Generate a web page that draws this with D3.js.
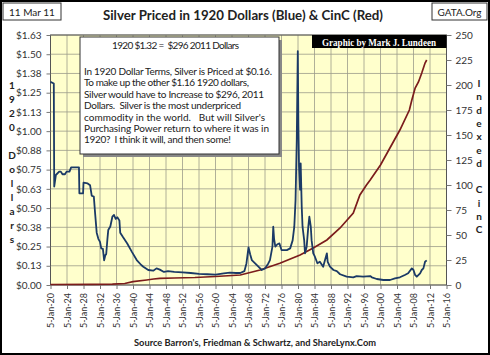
<!DOCTYPE html>
<html><head><meta charset="utf-8">
<script src="https://cdn.jsdelivr.net/npm/d3@7"></script>
<style>
body{margin:0;background:#fff;}
svg{display:block;font-family:Lato,"Open Sans",sans-serif;}
</style></head>
<body><svg id="c" width="490" height="355"></svg>
<script>
// ---------- DATA ----------
const silverYears = [1920.0,1920.8,1920.9,1921.3,1922.1,1922.5,1922.9,1923.5,1923.9,1924.6,1925.0,1926.9,1927.0,1927.9,1928.0,1929.0,1929.6,1930.0,1930.5,1930.8,1931.2,1931.6,1932.0,1932.3,1932.7,1933.0,1933.3,1933.5,1933.8,1934.0,1934.5,1935.0,1935.4,1935.8,1936.2,1936.7,1936.9,1937.6,1938.6,1939.7,1940.9,1942.0,1942.5,1943.7,1944.9,1945.7,1946.5,1947.5,1948.5,1950,1952,1954,1956,1958,1960,1962,1963.5,1965,1966,1967,1967.5,1968.0,1968.4,1968.8,1969.6,1970.4,1971.2,1972.0,1972.8,1973.2,1973.8,1974.0,1974.2,1974.5,1975.0,1975.5,1976.0,1977.3,1978.1,1978.7,1979.1,1979.4,1979.7,1979.95,1980.1,1980.25,1980.5,1980.65,1980.9,1981.1,1981.5,1981.7,1982.1,1982.5,1982.75,1983.1,1983.3,1983.7,1984.1,1984.7,1985.3,1986.1,1987.0,1987.2,1987.75,1988.6,1989.4,1990.2,1991.8,1993.4,1994.2,1995.8,1997.5,1997.9,1999.1,2000.7,2002.3,2003.5,2004.7,2005.9,2006.7,2007.6,2008.0,2008.4,2008.8,2009.6,2010.0,2010.4,2010.8,2011.2];
const silverValues = [1.32,1.31,0.64,0.715,0.737,0.737,0.72,0.72,0.737,0.737,0.765,0.765,0.596,0.596,0.665,0.66,0.648,0.58,0.575,0.47,0.34,0.3,0.28,0.238,0.235,0.16,0.195,0.2,0.3,0.357,0.38,0.444,0.455,0.43,0.44,0.42,0.34,0.31,0.27,0.217,0.162,0.13,0.119,0.0975,0.093,0.108,0.10,0.085,0.09,0.085,0.082,0.078,0.072,0.07,0.068,0.075,0.08,0.078,0.078,0.09,0.14,0.245,0.2,0.162,0.141,0.119,0.0975,0.108,0.14,0.162,0.249,0.379,0.3,0.25,0.265,0.27,0.227,0.227,0.238,0.29,0.379,0.55,0.94,1.52,1.03,0.77,0.62,0.79,0.51,0.379,0.29,0.206,0.249,0.379,0.444,0.379,0.29,0.206,0.184,0.141,0.151,0.119,0.206,0.15,0.119,0.0975,0.09,0.07,0.054,0.05,0.058,0.054,0.058,0.05,0.039,0.0325,0.0325,0.043,0.05,0.065,0.076,0.108,0.0975,0.065,0.054,0.076,0.0975,0.108,0.151,0.16];
const cincYears = [1920,1930,1935,1938,1940,1943.3,1945,1946.5,1950,1955,1960,1966,1970.8,1975.6,1980.5,1983.7,1987,1990.2,1993.4,1995,1996.6,1997.5,2000,2004.7,2007,2007.6,2008.4,2009.2,2010,2010.8,2011.2];
const cincValues = [0.5,0.6,0.8,1.5,3.3,5,6,6.7,7,7.5,8.5,10,15,21.7,30,37,45,57,72,90,100,105,120,155,175,185,197,203,212,222,225];
const leftTicks = [0,0.125,0.25,0.375,0.5,0.625,0.75,0.875,1.0,1.125,1.25,1.375,1.5,1.625];
const leftTickLabels = ["$0.00","$0.13","$0.25","$0.38","$0.50","$0.63","$0.75","$0.88","$1.00","$1.13","$1.25","$1.38","$1.50","$1.63"];
const rightTicks = [0,25,50,75,100,125,150,175,200,225,250];
const xTickYears = d3.range(1920, 2017, 4);
const title = "Silver Priced in 1920 Dollars (Blue) & CinC (Red)";
const dateLabel = "11 Mar 11";
const siteLabel = "GATA.Org";
const credit = "Graphic by Mark J. Lundeen";
const source = "Source Barron's, Friedman & Schwartz, and ShareLynx.Com";
const leftTitle = "1920 Dollars";
const rightTitle = "Indexed CinC";
const noteHead = "1920 $1.32 =  $296 2011 Dollars";
const noteLines = ["In 1920 Dollar Terms, Silver is Priced at $0.16.","To make up the other $1.16 1920 dollars,","Silver would have to Increase to $296, 2011","Dollars.  Silver is the most underpriced","commodity in the world.   But will Silver's","Purchasing Power return to where it was in","1920?  I think it will, and then some!"];
const noteWidths = [188,165,180,157,181,185,147];

// ---------- HELPERS ----------
function yearToDate(y){
  const yr=Math.floor(y), frac=y-yr;
  const a=new Date(yr,0,5), b=new Date(yr+1,0,5);
  return new Date(a.getTime()+frac*(b-a));
}
// stretch a text to a target width with letter-spacing
function fitWidth(sel, target){
  sel.each(function(){
    const t=d3.select(this); const w=this.getComputedTextLength();
    const n=this.textContent.length;
    const target_=typeof target==="function"?target.call(this):target;
    if(n>1) t.attr("letter-spacing",((target_-w)/(n-1)).toFixed(3)+"px");
  });
}
const svg=d3.select("#c");
const L=50.5, R=446.5, T=35, B=285;
const x=d3.scaleTime().domain([yearToDate(1920),yearToDate(2016)]).range([L,R]);
const yL=d3.scaleLinear().domain([0,1.625]).range([B,T]);
const yR=d3.scaleLinear().domain([0,250]).range([B,T]);

svg.append("rect").attr("width",490).attr("height",355).attr("fill","#fff");

// plot area
svg.append("rect").attr("x",L).attr("y",T).attr("width",R-L).attr("height",B-T).attr("fill","#FFFFCC");
const grid=svg.append("g").attr("stroke","#9c9c8a").attr("stroke-width",0.8);
grid.selectAll("line.v").data(xTickYears).join("line")
  .attr("x1",d=>x(yearToDate(d))).attr("x2",d=>x(yearToDate(d))).attr("y1",T).attr("y2",B);
grid.selectAll("line.h").data(leftTicks).join("line").attr("class","h")
  .attr("x1",L).attr("x2",R).attr("y1",d=>yL(d)).attr("y2",d=>yL(d));
svg.append("rect").attr("x",L).attr("y",T).attr("width",R-L).attr("height",B-T).attr("fill","none").attr("stroke","#555").attr("stroke-width",1);

// axes
const axL=d3.axisLeft(yL).tickValues(leftTicks).tickFormat((d,i)=>leftTickLabels[i]).tickSize(4).tickPadding(5);
const gL=svg.append("g").attr("transform",`translate(${L},0)`).call(axL);
const axR=d3.axisRight(yR).tickValues(rightTicks).tickSize(5).tickPadding(4);
const gR=svg.append("g").attr("transform",`translate(${R},0)`).call(axR);
const axB=d3.axisBottom(x).tickValues(xTickYears.map(yearToDate)).tickFormat(d=>"5-Jan-"+d3.timeFormat("%y")(d)).tickSize(4).tickPadding(3);
const gB=svg.append("g").attr("transform",`translate(0,${B})`).call(axB);
[gL,gR,gB].forEach(g=>{
  g.selectAll(".tick line").attr("stroke","#777");
  g.selectAll("text").attr("fill","#333").attr("font-family","Lato,sans-serif").attr("font-size",10);
  g.select(".domain").remove();
});
gB.selectAll("text").attr("font-size",9).attr("transform","rotate(-90)").attr("text-anchor","end")
  .attr("dy","0.35em").attr("x",-8).attr("y",0);

// lines
const red=d3.line().x((d,i)=>x(yearToDate(cincYears[i]))).y((d,i)=>yR(cincValues[i]));
svg.append("path").attr("d",red(cincValues)).attr("fill","none").attr("stroke","#7B1C1C").attr("stroke-width",1.7);
const blue=d3.line().x((d,i)=>x(yearToDate(silverYears[i]))).y((d,i)=>yL(silverValues[i]));
svg.append("path").attr("d",blue(silverValues)).attr("fill","none").attr("stroke","#1B3A66").attr("stroke-width",1.8).attr("stroke-linejoin","round");

// credit box
svg.append("rect").attr("x",312).attr("y",T).attr("width",R-312).attr("height",13).attr("fill","#000");
svg.append("text").attr("x",379).attr("y",45.5).attr("text-anchor","middle").attr("fill","#fff")
  .attr("font-family","'Liberation Serif',serif").attr("font-weight","bold").attr("font-size",10.5)
  .attr("textLength",114).attr("lengthAdjust","spacingAndGlyphs").text(credit);

// note box
svg.append("rect").attr("x",83).attr("y",40).attr("width",199).attr("height",117).attr("fill","#888");
svg.append("rect").attr("x",80).attr("y",37).attr("width",199).attr("height",117).attr("fill","#fff").attr("stroke","#333").attr("stroke-width",1);
const head=svg.append("text").attr("x",112).attr("y",48.5).attr("font-size",10).attr("fill","#222")
  .style("white-space","pre").text(noteHead);
fitWidth(head,127);
const body=svg.append("g").selectAll("text").data(noteLines).join("text")
  .attr("x",84).attr("y",(d,i)=>75+i*11.4).attr("font-size",10).attr("fill","#222").style("white-space","pre").text(d=>d);
body.each(function(d,i){ fitWidth(d3.select(this), noteWidths[i]); });

// header
svg.append("rect").attr("x",3).attr("y",3).attr("width",58).attr("height",17).attr("fill","#fff").attr("stroke","#333");
svg.append("text").attr("x",32).attr("y",15.5).attr("text-anchor","middle").attr("font-size",10).attr("fill","#222").text(dateLabel);
svg.append("rect").attr("x",432).attr("y",3).attr("width",55).attr("height",17).attr("fill","#fff").attr("stroke","#333");
svg.append("text").attr("x",459.5).attr("y",15.5).attr("text-anchor","middle").attr("font-size",10).attr("fill","#222").text(siteLabel);
svg.append("text").attr("x",243).attr("y",19.5).attr("text-anchor","middle").attr("font-size",12.8).attr("font-weight","bold").attr("fill","#222")
  .attr("textLength",280).attr("lengthAdjust","spacingAndGlyphs").text(title);

// vertical axis titles
svg.append("g").selectAll("text").data(leftTitle.split("")).join("text")
  .attr("x",12).attr("y",(d,i)=>89+i*14).attr("text-anchor","middle").attr("font-size",10).attr("font-weight","bold").attr("fill","#222").text(d=>d);
svg.append("g").selectAll("text").data(rightTitle.split("")).join("text")
  .attr("x",479).attr("y",(d,i)=>87+i*13.3).attr("text-anchor","middle").attr("font-size",10).attr("font-weight","bold").attr("fill","#222").text(d=>d);

// footer
svg.append("text").attr("x",255).attr("y",346).attr("text-anchor","middle").attr("font-size",9.5).attr("font-weight","bold").attr("fill","#222")
  .attr("textLength",242).attr("lengthAdjust","spacingAndGlyphs").text(source);

// outer frame
svg.append("rect").attr("x",1).attr("y",1).attr("width",488).attr("height",353).attr("fill","none").attr("stroke","#000").attr("stroke-width",2);
</script></body></html>
